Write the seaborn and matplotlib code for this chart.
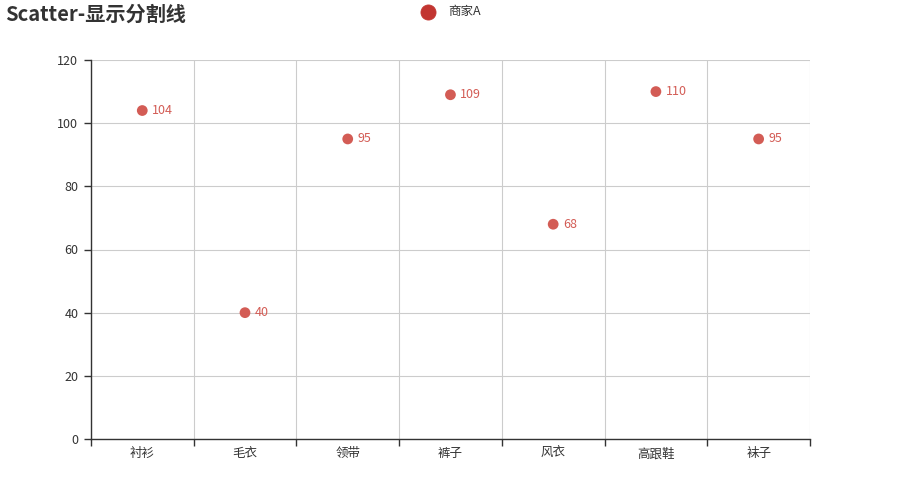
import matplotlib
matplotlib.use('Agg')
import matplotlib.pyplot as plt
import seaborn as sns
import pandas as pd
from matplotlib.ticker import FixedLocator

categories = ['衬衫', '毛衣', '领带', '裤子', '风衣', '高跟鞋', '袜子']
values = [104, 40, 95, 109, 68, 110, 95]
series_name = '商家A'
y_ticks = [0, 20, 40, 60, 80, 100, 120]

sns.set_style('white')
plt.rcParams['font.family'] = ['Noto Sans CJK SC', 'DejaVu Sans']

df = pd.DataFrame({'cat': categories, 'val': values})

fig = plt.figure(figsize=(9, 5), dpi=100)
ax = fig.add_axes([0.101, 0.122, 0.799, 0.758])

point_color = '#d35c55'
sns.scatterplot(data=df, x='cat', y='val', ax=ax, color=point_color,
                s=60, edgecolor='none', label=series_name, zorder=3)

ax.set_xlim(-0.5, len(categories) - 0.5)
ax.set_ylim(0, 120)
ax.set_yticks(y_ticks)
ax.set_xticks(range(len(categories)))
ax.set_xticklabels(categories)
ax.xaxis.set_minor_locator(FixedLocator([i - 0.5 for i in range(len(categories) + 1)]))
ax.tick_params(axis='x', which='major', bottom=False, length=0, pad=6,
               labelsize=9, labelcolor='#333333')
ax.tick_params(axis='x', which='minor', bottom=True, length=5, width=1,
               color='#333333', direction='out')
ax.tick_params(axis='y', left=True, length=5, width=1, color='#333333',
               labelsize=9, labelcolor='#333333', pad=4)
ax.set_xlabel('')
ax.set_ylabel('')

ax.grid(True, axis='y', which='major', color='#cccccc', linewidth=0.8)
ax.grid(True, axis='x', which='minor', color='#cccccc', linewidth=0.8)
ax.grid(False, axis='x', which='major')
ax.set_axisbelow(True)

for s in ['top', 'right']:
    ax.spines[s].set_visible(False)
for s in ['left', 'bottom']:
    ax.spines[s].set_color('#333333')
    ax.spines[s].set_linewidth(1)

for i, v in enumerate(values):
    ax.annotate(str(v), (i, v), xytext=(7, 0), textcoords='offset points',
                va='center', ha='left', fontsize=9, color=point_color)

leg = ax.legend(loc='center', frameon=False, fontsize=9, markerscale=1.4,
                handletextpad=0.6, labelcolor='#333333',
                bbox_to_anchor=(0.498, 0.976), bbox_transform=fig.transFigure)
leg.legend_handles[0].set_color('#c23531')

fig.text(0.006, 0.972, 'Scatter-显示分割线', fontsize=14.5, fontweight='bold',
         color='#333333', va='center', ha='left')

fig.savefig('out.png', dpi=100)
